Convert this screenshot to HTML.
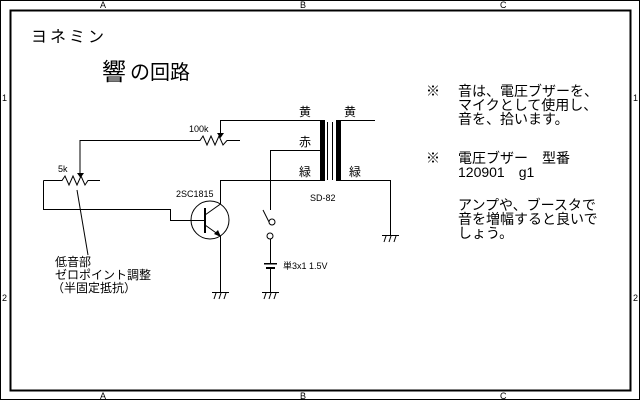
<!DOCTYPE html>
<html><head><meta charset="utf-8"><style>
body{margin:0;background:#fff}
svg{display:block}
text{font-family:"Liberation Sans","Noto Sans CJK JP",sans-serif;fill:#000}
</style></head><body>
<svg width="640" height="400" viewBox="0 0 640 400" xmlns="http://www.w3.org/2000/svg">
<rect x="0.5" y="0.5" width="639" height="399" fill="none" stroke="#000"/>
<rect x="10.5" y="10.5" width="620" height="380" fill="none" stroke="#000" stroke-width="2"/>
<g font-size="9">
<text x="100" y="8">A</text><text x="300" y="8">B</text><text x="500" y="8">C</text>
<text x="100" y="399">A</text><text x="300" y="399">B</text><text x="500" y="399">C</text>
<text x="2" y="101">1</text><text x="2" y="301">2</text>
<text x="633" y="101">1</text><text x="633" y="301">2</text>
</g>
<text x="31" y="42" font-size="16" letter-spacing="3">ヨネミン</text>
<text x="102" y="80" font-size="24">響</text>
<text x="130" y="79" font-size="20">の回路</text>

<g stroke="#000" fill="none" stroke-width="1">
<polyline points="80,175 80,140.5 200,140.5 203,136 207,145 211,136 215,145 219,136 223,145 227,140.5 240,140.5"/>
<polyline points="220.5,133 220.5,120.5 320,120.5"/>
<polyline points="43.5,180.5 62,180.5 65,176 69,185 73,176 77,185 81,176 85,185 88,180.5 100,180.5"/>
<polyline points="43.5,180.5 43.5,209.5 170.5,209.5 170.5,220.5 205,220.5"/>
<line x1="77" y1="190" x2="88" y2="255"/>
<circle cx="210" cy="220" r="19"/>
<polyline points="205,215 220.5,204 220.5,180.5 320,180.5"/>
<polyline points="205,225 220.5,236 220.5,292"/>
<polyline points="320,150.5 270.5,150.5 270.5,210"/>
<circle cx="272" cy="222" r="3"/>
<circle cx="270" cy="236" r="3"/>
<line x1="263" y1="210" x2="269" y2="222"/>
<line x1="270.5" y1="239" x2="270.5" y2="264"/>
<line x1="270.5" y1="268" x2="270.5" y2="292"/>
<line x1="341" y1="120.5" x2="375" y2="120.5"/>
<polyline points="341,180.5 390.5,180.5 390.5,235"/>
<line x1="327.5" y1="122" x2="327.5" y2="180"/>
<line x1="332.5" y1="122" x2="332.5" y2="180"/>
<g>
<line x1="212" y1="292.5" x2="229" y2="292.5"/><line x1="216" y1="293" x2="214" y2="299"/><line x1="221" y1="293" x2="219" y2="299"/><line x1="226" y1="293" x2="224" y2="299"/>
<line x1="262" y1="292.5" x2="279" y2="292.5"/><line x1="266" y1="293" x2="264" y2="299"/><line x1="271" y1="293" x2="269" y2="299"/><line x1="276" y1="293" x2="274" y2="299"/>
<line x1="382" y1="235.5" x2="399" y2="235.5"/><line x1="386" y1="236" x2="384" y2="242"/><line x1="391" y1="236" x2="389" y2="242"/><line x1="396" y1="236" x2="394" y2="242"/>
</g>
</g>
<polygon points="217,133 224,133 220.5,138" fill="#000"/>
<polygon points="77,173 84,173 80.5,178" fill="#000"/>
<rect x="204" y="208" width="2" height="25" fill="#000"/>
<polygon points="221,237 214,234 218,230" fill="#000"/>
<rect x="320" y="120" width="5" height="61" fill="#000"/>
<rect x="336" y="120" width="5" height="61" fill="#000"/>
<rect x="264" y="263" width="13" height="1.5" fill="#000"/>
<rect x="266" y="267" width="9" height="2" fill="#000"/>

<g font-size="9">
<text x="189" y="132">100k</text>
<text x="58" y="172">5k</text>
<text x="176" y="197">2SC1815</text>
<text x="310" y="201">SD-82</text>
<text x="283" y="269">単3x1 1.5V</text>
</g>
<g font-size="12">
<text x="299" y="116">黄</text><text x="344" y="116">黄</text>
<text x="299" y="146">赤</text>
<text x="299" y="176">緑</text><text x="349" y="176">緑</text>
<text x="55" y="266">低音部</text>
<text x="55" y="279">ゼロポイント調整</text>
<text x="52" y="292">（半固定抵抗）</text>
</g>
<g font-size="14">
<text x="426" y="96">※</text>
<text x="458" y="96">音は、電圧ブザーを、</text>
<text x="458" y="110">マイクとして使用し、</text>
<text x="458" y="124">音を、拾います。</text>
<text x="426" y="163">※</text>
<text x="458" y="163">電圧ブザー　型番</text>
<text x="458" y="177">120901　g1</text>
<text x="458" y="210">アンプや、ブースタで</text>
<text x="458" y="224">音を増幅すると良いで</text>
<text x="458" y="238">しょう。</text>
</g>
</svg>
</body></html>
